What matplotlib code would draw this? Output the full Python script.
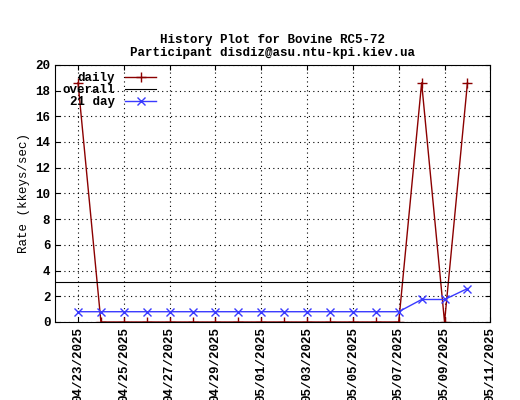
import datetime as dt
import matplotlib
matplotlib.use("Agg")
import matplotlib.pyplot as plt
import matplotlib.dates as mdates

plt.rcParams['font.family'] = ['Liberation Mono', 'DejaVu Sans Mono']
plt.rcParams['font.weight'] = 'bold'

start = dt.datetime(2025, 4, 23)
dates = [start + dt.timedelta(days=i) for i in range(18)]
daily = [18.6, 0, 0, 0, 0, 0, 0, 0, 0, 0, 0, 0, 0, 0, 0, 18.6, 0, 18.6]
day21 = [0.8, 0.8, 0.8, 0.8, 0.8, 0.8, 0.8, 0.8, 0.8, 0.8, 0.8, 0.8, 0.8,
         0.8, 0.8, 1.75, 1.75, 2.6]
overall = 3.1

fig = plt.figure(figsize=(5.2, 4.0), dpi=100)
ax = fig.add_axes([0.106, 0.195, 0.837, 0.643])
ax.plot(dates, daily, color='#8b0000', marker='+', ms=7, lw=1, label='daily')
ax.axhline(overall, color='black', lw=0.8, label='overall')
ax.plot(dates, day21, color='#3a3aff', marker='x', ms=6, lw=1, label='21 day')

ax.set_ylim(0, 20)
ax.set_yticks(range(0, 21, 2))
ax.set_xlim(dt.datetime(2025, 4, 22), dt.datetime(2025, 5, 10, 14))
ax.set_xticks([dt.datetime(2025, 4, 23) + dt.timedelta(days=2 * k) for k in range(10)])
ax.xaxis.set_major_formatter(mdates.DateFormatter('%m/%d/%Y'))
plt.setp(ax.get_xticklabels(), rotation=90, fontsize=9)
plt.setp(ax.get_yticklabels(), fontsize=9)
ax.grid(True, color='black', linestyle=(0, (1, 3)), lw=0.8)
ax.tick_params(direction='in', top=True, right=True)
ax.set_ylabel('Rate (kkeys/sec)', fontsize=9)
ax.set_title('History Plot for Bovine RC5-72\nParticipant disdiz@asu.ntu-kpi.kiev.ua',
             fontsize=9, fontweight='bold')
leg = ax.legend(loc='upper left', fontsize=9, frameon=False, markerfirst=False,
                handlelength=2.5, borderpad=0.1, labelspacing=0.0)
for t in leg.get_texts():
    t.set_ha('right')
fig.savefig('out.png')
